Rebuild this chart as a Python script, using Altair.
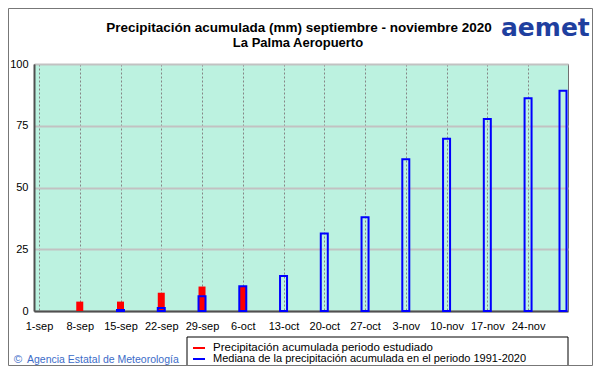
import altair as alt
import pandas as pd

# ---- data ----
fechas = ["2020-09-01", "2020-09-08", "2020-09-15", "2020-09-22", "2020-09-29",
          "2020-10-06", "2020-10-13", "2020-10-20", "2020-10-27", "2020-11-03",
          "2020-11-10", "2020-11-17", "2020-11-24", "2020-11-30"]
mediana = [0, 0, 0.4, 1.2, 6.0, 10.0, 14.2, 31.4, 38.0, 61.4, 69.7, 77.7, 86.1, 89.2]
observada = [0, 3.8, 3.8, 7.4, 9.9, 10.0, None, None, None, None, None, None, None, None]
etiquetas = ["1-sep", "8-sep", "15-sep", "22-sep", "29-sep", "6-oct", "13-oct",
             "20-oct", "27-oct", "3-nov", "10-nov", "17-nov", "24-nov"]
y_ticks = [0, 25, 50, 75, 100]

titulo1 = "Precipitación acumulada (mm) septiembre - noviembre 2020"
titulo2 = "La Palma Aeropuerto"
ley1 = "Precipitación acumulada periodo estudiado"
ley2 = "Mediana de la precipitación acumulada en el periodo 1991-2020"
copy_txt = "Agencia Estatal de Meteorología"

inicio = pd.Timestamp(fechas[0])
dias = [(pd.Timestamp(f) - inicio).days for f in fechas]
df = pd.DataFrame({"dia": dias, "mediana": mediana, "observada": observada})

W, H = 534, 247
FONT = "Liberation Sans"

tick_vals = [i * 7 for i in range(len(etiquetas))]
label_expr = "[" + ",".join("'%s'" % e for e in etiquetas) + "][round(datum.value/7)]"

x_enc = alt.X("dia:Q", scale=alt.Scale(domain=[0, dias[-1]], nice=False, zero=False),
              axis=alt.Axis(values=tick_vals, labelExpr=label_expr, title=None,
                            ticks=False, grid=True, gridDash=[2, 2], gridColor="#858585",
                            gridWidth=1, domain=True, domainColor="#505050", domainWidth=2,
                            labelFont=FONT, labelFontSize=11, labelColor="#000000",
                            labelPadding=9, labelAngle=0))
y_scale = alt.Scale(domain=[0, 100], nice=False)
y_axis = alt.Axis(values=y_ticks, title=None, ticks=False, grid=True, gridColor="#c2c2c2",
                  gridWidth=2, domain=True, domainColor="#505050", domainWidth=2,
                  labelFont=FONT, labelFontSize=11, labelColor="#000000", labelPadding=6)

base = alt.Chart(df)

red = base.transform_filter("isValid(datum.observada)").mark_bar(
    size=7, color="#ff0000").encode(
    x=x_enc, y=alt.Y("observada:Q", scale=y_scale, axis=y_axis))

blue = base.transform_filter("datum.mediana > 0").mark_bar(
    size=7, filled=False, stroke="#0000ff", strokeWidth=2).encode(
    x=alt.X("dia:Q"), y=alt.Y("mediana:Q"))

one = pd.DataFrame({"k": [0]})

def txt(text, x, y, **kw):
    return alt.Chart(pd.DataFrame({"t": [text]})).mark_text(**kw).encode(
        x=alt.value(x), y=alt.value(y), text="t:N")

title_a = txt(titulo1, 265, -36, font=FONT, fontSize=13.5, fontWeight="bold",
              align="center", baseline="middle", color="#000000")
title_b = txt(titulo2, 264, -21, font=FONT, fontSize=13, fontWeight="bold",
              align="center", baseline="middle", color="#000000")
logo = txt("aemet", 467, -28, font="DejaVu Sans", fontSize=25, fontWeight="bold",
           align="left", baseline="alphabetic", color="#1f3f9f")

leg_box = alt.Chart(one).mark_rect(fill="#ffffff", stroke="#000000", strokeWidth=1).encode(
    x=alt.value(153), x2=alt.value(534), y=alt.value(273), y2=alt.value(303))
leg_r1 = alt.Chart(one).mark_rule(color="#ff0000", strokeWidth=2).encode(
    x=alt.value(159), x2=alt.value(171), y=alt.value(284))
leg_r2 = alt.Chart(one).mark_rule(color="#0000ff", strokeWidth=2).encode(
    x=alt.value(159), x2=alt.value(171), y=alt.value(295))
leg_t1 = txt(ley1, 179, 284, font=FONT, fontSize=11.5, align="left", baseline="middle",
             color="#000000")
leg_t2 = txt(ley2, 179, 295, font=FONT, fontSize=11, align="left", baseline="middle",
             color="#000000")

copy_sym = txt("©", -16, 296, font=FONT, fontSize=11.5, align="center", baseline="middle",
               color="#3c6cc8")
copy_t = txt(copy_txt, -7, 296, font=FONT, fontSize=10.5, align="left", baseline="middle",
             color="#3c6cc8")

frame = alt.Chart(one).mark_rect(fill=None, stroke="#777777", strokeWidth=1).encode(
    x=alt.value(-25.5), x2=alt.value(558.5), y=alt.value(-55.5), y2=alt.value(301.5))

chart = alt.layer(
    red, blue, title_a, title_b, logo, leg_box, leg_r1, leg_r2, leg_t1, leg_t2,
    copy_sym, copy_t, frame
).properties(
    width=W, height=H,
    autosize=alt.AutoSizeParams(type="none"),
    padding={"left": 26, "top": 56, "right": 25, "bottom": 55},
    background="#ffffff",
).configure_view(
    fill="#bcf2e0", stroke="#707070", strokeWidth=1
)

chart.save("out.html", embed_options={"renderer": "svg", "actions": False})
